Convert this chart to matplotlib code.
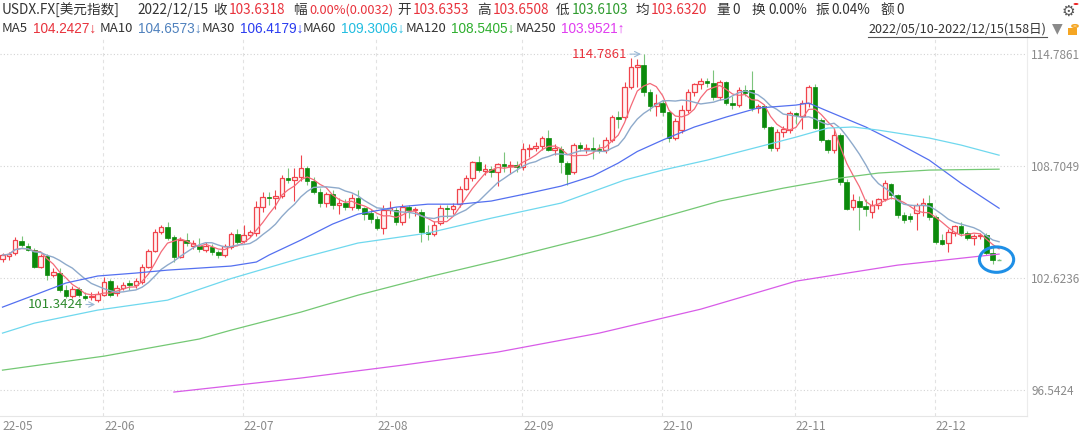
"""USDX daily candles with moving averages, 2022/05/10 - 2022/12/15."""

import matplotlib
matplotlib.use("Agg")
import matplotlib.pyplot as plt
from matplotlib.patches import Rectangle, Ellipse, Circle
from matplotlib.lines import Line2D
import numpy as np
import pandas as pd

plt.rcParams['font.family'] = ['Noto Sans CJK SC', 'DejaVu Sans']

W, H = 1080, 434

# Trading days (all weekdays) shown on the chart.
dates = pd.bdate_range("2022-05-10", "2022-12-15")

# Daily OHLC.
opens = [
    103.66, 103.80, 103.98, 104.64, 104.37, 104.15, 103.22, 103.82, 102.82, 102.90,
    101.98, 101.65, 102.03, 101.68, 101.58, 101.45, 101.70, 102.46, 101.81, 102.08,
    102.35, 102.25, 102.41, 103.22, 104.09, 105.12, 105.40, 104.85, 103.77, 104.69,
    104.37, 104.37, 104.15, 104.31, 104.04, 103.88, 104.31, 105.01, 104.64, 104.96,
    105.10, 106.50, 107.05, 106.95, 107.10, 108.05, 107.95, 108.10, 108.60, 107.90,
    107.30, 106.70, 107.20, 106.60, 106.70, 106.50, 107.00, 106.43, 106.16, 105.83,
    105.34, 106.30, 106.32, 105.67, 106.48, 106.30, 106.21, 105.13, 105.02, 105.61,
    106.43, 106.40, 106.65, 107.46, 108.06, 108.93, 108.45, 108.55, 108.38, 108.82,
    108.72, 108.78, 108.65, 109.63, 109.68, 109.79, 110.23, 109.57, 109.63, 108.87,
    108.38, 109.85, 109.65, 109.70, 109.65, 109.57, 110.12, 111.37, 111.37, 113.00,
    114.08, 114.19, 112.73, 111.97, 112.13, 111.64, 110.23, 110.66, 111.75, 112.73,
    113.16, 113.32, 113.21, 112.45, 113.27, 112.13, 112.02, 112.84, 112.84, 111.86,
    111.97, 110.83, 109.68, 110.55, 110.66, 111.59, 111.45, 112.13, 113.00, 111.20,
    110.12, 109.57, 110.39, 107.84, 106.48, 106.81, 106.55, 106.21, 106.59, 106.92,
    107.73, 107.13, 106.05, 106.00, 106.16, 106.59, 106.70, 105.94, 104.70, 104.53,
    105.07, 105.45, 105.07, 104.80, 104.90, 104.95, 103.99, 103.6353,
]
highs = [
    103.98, 104.05, 104.85, 104.91, 104.53, 104.26, 103.93, 103.93, 103.17, 103.17,
    102.25, 102.20, 102.14, 101.87, 101.87, 101.90, 102.68, 102.57, 102.25, 102.41,
    102.52, 102.62, 103.38, 104.20, 105.29, 105.50, 105.67, 104.96, 104.85, 105.07,
    104.69, 104.80, 104.58, 104.47, 104.15, 104.47, 105.12, 105.29, 105.50, 105.23,
    106.80, 107.30, 107.30, 107.40, 108.20, 108.60, 108.60, 109.29, 108.70, 108.10,
    107.50, 107.30, 107.40, 107.00, 106.90, 107.20, 107.40, 106.50, 106.40, 106.00,
    106.60, 106.80, 106.48, 106.65, 106.60, 106.50, 106.40, 105.50, 105.70, 106.60,
    106.60, 106.70, 107.60, 108.20, 109.00, 109.26, 108.80, 108.70, 108.90, 109.48,
    109.00, 109.00, 109.95, 109.90, 110.00, 110.35, 110.66, 109.90, 109.80, 109.00,
    109.95, 110.00, 109.90, 110.30, 109.90, 110.30, 111.50, 111.72, 113.27, 114.58,
    114.52, 114.7861, 112.90, 112.60, 112.30, 111.70, 111.30, 112.00, 112.90, 113.20,
    113.50, 113.50, 113.90, 113.40, 113.30, 112.50, 113.00, 113.10, 113.87, 112.10,
    112.05, 110.90, 110.70, 110.90, 111.70, 111.65, 112.30, 113.10, 113.15, 111.30,
    110.20, 110.80, 110.50, 108.00, 107.20, 107.10, 106.90, 106.85, 107.00, 107.95,
    107.80, 107.20, 106.20, 106.15, 106.70, 106.95, 107.13, 106.05, 105.00, 105.30,
    105.50, 105.67, 105.20, 105.00, 105.05, 105.10, 104.30, 103.6508,
]
lows = [
    103.50, 103.60, 103.88, 104.31, 104.09, 103.17, 103.17, 102.52, 102.68, 101.87,
    101.54, 101.54, 101.60, 101.43, 101.43, 101.3424, 101.65, 101.60, 101.65, 101.98,
    102.00, 102.08, 102.30, 103.17, 104.04, 105.02, 104.69, 103.50, 103.71, 104.37,
    104.20, 104.04, 104.04, 103.88, 103.71, 103.77, 104.20, 104.47, 104.53, 104.85,
    104.90, 106.20, 106.60, 106.40, 107.00, 107.80, 106.80, 107.90, 107.70, 107.20,
    106.50, 106.50, 106.40, 106.10, 106.30, 106.30, 106.30, 105.80, 105.60, 105.23,
    105.00, 106.10, 105.50, 105.50, 105.90, 106.00, 104.58, 104.70, 104.90, 105.50,
    105.90, 106.10, 106.50, 107.40, 107.90, 108.40, 108.20, 108.10, 107.60, 108.40,
    108.30, 108.40, 108.50, 109.20, 109.50, 109.60, 109.50, 109.30, 108.35, 107.70,
    108.30, 109.50, 109.40, 109.10, 109.40, 109.40, 110.00, 110.80, 111.20, 112.90,
    113.00, 112.50, 111.70, 111.40, 111.40, 110.00, 110.10, 110.50, 111.60, 112.50,
    112.90, 113.00, 112.30, 112.30, 112.00, 111.80, 111.90, 112.50, 111.70, 111.60,
    110.70, 109.50, 109.50, 110.30, 110.50, 111.00, 110.70, 111.90, 110.70, 110.00,
    109.40, 109.40, 107.70, 106.30, 106.30, 105.23, 106.00, 105.90, 106.40, 106.80,
    106.90, 105.90, 105.60, 105.65, 105.23, 106.00, 105.80, 104.50, 104.40, 104.03,
    104.90, 104.90, 104.70, 104.45, 104.75, 103.90, 103.40, 103.6103,
]
closes = [
    103.88, 103.95, 104.69, 104.42, 104.15, 103.22, 103.82, 102.79, 102.96, 101.98,
    101.65, 102.03, 101.70, 101.56, 101.66, 101.75, 102.41, 101.70, 102.08, 102.25,
    102.25, 102.46, 103.22, 104.09, 105.12, 105.40, 104.80, 103.77, 104.69, 104.53,
    104.53, 104.20, 104.37, 104.04, 103.88, 104.37, 105.01, 104.58, 104.96, 105.12,
    106.50, 107.05, 106.95, 107.10, 108.05, 107.95, 108.10, 108.60, 107.90, 107.30,
    106.70, 107.20, 106.60, 106.70, 106.50, 107.00, 106.43, 106.10, 105.83, 105.34,
    106.32, 106.45, 105.67, 106.48, 106.32, 106.40, 105.13, 105.02, 105.50, 106.43,
    106.38, 106.55, 107.46, 108.06, 108.93, 108.49, 108.55, 108.38, 108.82, 108.72,
    108.78, 108.65, 109.63, 109.68, 109.79, 110.23, 109.57, 109.70, 108.93, 108.27,
    109.85, 109.68, 109.70, 109.60, 109.58, 110.12, 111.37, 111.26, 113.00, 114.08,
    114.19, 112.73, 111.97, 112.13, 111.64, 110.23, 111.15, 111.75, 112.73, 113.16,
    113.32, 113.21, 112.45, 113.27, 112.13, 112.05, 112.84, 112.68, 111.86, 111.97,
    110.83, 109.68, 110.55, 110.72, 111.59, 111.50, 112.13, 113.00, 110.77, 110.12,
    109.57, 110.39, 107.84, 106.37, 106.86, 106.48, 106.40, 106.59, 106.92, 107.78,
    107.13, 106.05, 105.78, 105.85, 106.59, 106.70, 105.94, 104.58, 104.50, 105.12,
    105.45, 105.07, 104.80, 104.90, 104.95, 103.99, 103.60, 103.6318,
]

# Long moving averages (index of trading day, value).
ma30_idx = [0, 5, 10, 15, 21, 26, 31, 36, 40, 42, 47, 52, 56, 62, 67, 72, 77, 83,
            88, 93, 97, 100, 104, 109, 114, 119, 125, 127, 130, 136, 141, 146, 151, 157]
ma30_val = [101.05, 101.70, 102.36, 102.74, 102.90, 103.06, 103.17, 103.28, 103.50,
            103.88, 104.69, 105.56, 106.10, 106.48, 106.64, 106.64, 106.81, 107.24,
            107.62, 108.17, 108.87, 109.50, 110.12, 110.83, 111.37, 111.86, 112.02,
            112.13, 111.69, 110.83, 109.96, 109.03, 107.78, 106.42]
ma60_idx = [0, 5, 15, 26, 36, 47, 56, 67, 77, 88, 98, 104, 111, 119, 125, 130, 134,
            138, 146, 151, 157]
ma60_val = [99.64, 100.18, 100.89, 101.43, 102.60, 103.71, 104.53, 105.07, 105.88,
            106.70, 107.95, 108.49, 109.03, 109.74, 110.28, 110.77, 110.83, 110.66,
            110.23, 109.85, 109.30]
ma120_idx = [0, 16, 31, 36, 47, 56, 67, 79, 94, 113, 123, 132, 138, 146, 157]
ma120_val = [97.63, 98.39, 99.32, 99.80, 100.78, 101.70, 102.68, 103.66, 104.96,
             106.81, 107.51, 108.06, 108.33, 108.49, 108.54]
ma250_idx = [27, 47, 63, 78, 94, 110, 125, 141, 157]
ma250_val = [96.44, 97.20, 97.90, 98.61, 99.64, 100.94, 102.46, 103.33, 103.93]

y_ticks = [96.5424, 102.6236, 108.7049, 114.7861]

RED = '#f0444c'
GREEN = '#0b8a0b'
GREEN_WICK = '#7cc47c'
NUM_FONT = ['Liberation Sans', 'DejaVu Sans']


def px(x, y):
    return x / W, 1 - y / H


fig = plt.figure(figsize=(W / 100, H / 100), dpi=100)
fig.patch.set_facecolor('white')

ax = fig.add_axes([0, (H - 416) / H, 1027 / W, (416 - 36) / H])
n = len(closes)
x = np.arange(n)

# Candles.
bw = 0.72
for i in x:
    o, h, l, c = opens[i], highs[i], lows[i], closes[i]
    up = c > o
    if up:
        ax.vlines(i, l, h, color=RED, lw=0.8, zorder=2)
        ax.add_patch(Rectangle((i - bw / 2, o), bw, c - o, facecolor='#fff4f4',
                               edgecolor=RED, lw=0.9, zorder=2.5))
    else:
        ax.vlines(i, l, h, color=GREEN_WICK, lw=0.8, zorder=2)
        if o - c < 0.03:
            ax.hlines(c, i - bw / 2, i + bw / 2, color=GREEN_WICK, lw=1.0, zorder=2.5)
        else:
            ax.add_patch(Rectangle((i - bw / 2, c), bw, o - c, facecolor=GREEN,
                                   edgecolor=GREEN, lw=0.5, zorder=2.5))

# Moving averages.
cl = pd.Series(closes)
ma5 = cl.rolling(5, min_periods=1).mean()
ma10 = cl.rolling(10, min_periods=1).mean()
ax.plot(x, ma5, color='#f46a78', lw=0.9, zorder=3)
ax.plot(x, ma10, color='#8eaacb', lw=1.0, zorder=3)
ax.plot(ma30_idx, ma30_val, color='#5470f0', lw=0.9, zorder=3)
ax.plot(ma60_idx, ma60_val, color='#6fd8ee', lw=0.9, zorder=3)
ax.plot(ma120_idx, ma120_val, color='#74c874', lw=0.9, zorder=3)
ax.plot(ma250_idx, ma250_val, color='#d85ce8', lw=0.9, zorder=3)

# Max / min marks.
imax = int(np.argmax(highs))
imin = int(np.argmin(lows))
ax.annotate(f"{highs[imax]:.4f}", xy=(imax - 0.4, highs[imax]),
            xytext=(imax - 2.6, highs[imax]), ha='right', va='center',
            color='#e8323c', fontsize=9.5,
            arrowprops=dict(arrowstyle='->', color='#9ab8d6', lw=0.8,
                            shrinkA=0, shrinkB=0))
ax.annotate(f"{lows[imin]:.4f}", xy=(imin - 0.4, lows[imin] - 0.15),
            xytext=(imin - 2.3, lows[imin] - 0.15), ha='right', va='center',
            color='#2e8b2e', fontsize=9.5,
            arrowprops=dict(arrowstyle='->', color='#9ab8d6', lw=0.8,
                            shrinkA=0, shrinkB=0))

# Blue circle around the last candles.
ax.add_patch(Ellipse((156.6, 103.63), 5.4, 1.38, fill=False,
                     edgecolor='#1e8fe6', lw=2.2, zorder=4))

# Axes and grid.
ax.set_xlim(-0.394, 161.4)
ax.set_ylim(95.14, 115.77)
for s in ['top', 'left']:
    ax.spines[s].set_visible(False)
ax.spines['right'].set_color('#ececec')
ax.spines['bottom'].set_color('#e6e6e6')

month_idx = [0] + [i for i in range(1, n) if dates[i].month != dates[i - 1].month]
month_lbl = [dates[i].strftime('%y-%m') for i in month_idx]
ax.set_xticks(month_idx)
ax.set_xticklabels(month_lbl, ha='left', color='#8a8a8a', fontsize=8.5)
ax.tick_params(axis='x', length=0, pad=3)
for i in month_idx[1:]:
    ax.axvline(i - 0.15, color='#e2e2e2', lw=0.8, ls=(0, (3, 3)), zorder=1)

ax.yaxis.tick_right()
ax.set_yticks(y_ticks)
ax.set_yticklabels([f"{v:.4f}" for v in y_ticks], color='#8a8a8a', fontsize=8.5)
ax.tick_params(axis='y', length=0, pad=3)
for v in y_ticks:
    ax.axhline(v, color='#d4d4d4', lw=0.8, ls=(0, (1, 2)), zorder=1)

# Header line 1.
row1 = [
    (2, "USDX.FX[美元指数]", '#333333', 9.8),
    (137, "2022/12/15", '#333333', 9.8),
    (213, "收", '#333333', 9.8), (229, "103.6318", '#e8323c', 9.8),
    (293, "幅", '#333333', 9.8), (309, "0.00%(0.0032)", '#e8323c', 9.2),
    (397, "开", '#333333', 9.8), (413, "103.6353", '#e8323c', 9.8),
    (477, "高", '#333333', 9.8), (493, "103.6508", '#e8323c', 9.8),
    (556, "低", '#333333', 9.8), (572, "103.6103", '#2e9b2e', 9.8),
    (635, "均", '#333333', 9.8), (651, "103.6320", '#e8323c', 9.8),
    (716, "量", '#333333', 9.8), (732, "0", '#333333', 9.8),
    (752, "换", '#333333', 9.8), (768, "0.00%", '#333333', 9.8),
    (815, "振", '#333333', 9.8), (831, "0.04%", '#333333', 9.8),
    (880, "额", '#333333', 9.8), (896, "0", '#333333', 9.8),
]
for xp, t, col, fs in row1:
    fig.text(*px(xp, 10), t, color=col, fontsize=fs, va='center', ha='left')

# Header line 2 (moving average values).
row2 = [
    (2, "MA5", 33, "104.2427↓", '#e8323c'),
    (100, "MA10", 138, "104.6573↓", '#4f81bd'),
    (202, "MA30", 240, "106.4179↓", '#2a3cf0'),
    (303, "MA60", 341, "109.3006↓", '#22bde0'),
    (406, "MA120", 451, "108.5405↓", '#2faf2f'),
    (516, "MA250", 561, "103.9521↑", '#e03cf0'),
]
for xl, lbl, xv, val, col in row2:
    fig.text(*px(xl, 29), lbl, color='#333333', fontsize=9.5, va='center')
    fig.text(*px(xv, 29), val, color=col, fontsize=9.8, va='center',
             family=NUM_FONT)

fig.text(*px(868, 29), "2022/05/10-2022/12/15(158日)", color='#333333',
         fontsize=9, va='center')
fig.add_artist(Line2D([868 / W, 1047 / W], [1 - 37 / H, 1 - 37 / H],
                      color='#555555', lw=0.8))
fig.text(*px(1052, 28), "▼", color='#8a8a8a', fontsize=10, va='center',
         family=['DejaVu Sans'])
# Lock and gear icons.
fig.add_artist(Rectangle(px(1068, 35), 9 / W, 7 / H, transform=fig.transFigure,
                         facecolor='#f5a623', edgecolor='none'))
fig.add_artist(Circle(px(1075, 26), 3 / W, transform=fig.transFigure,
                      fill=False, edgecolor='#f5a623', lw=1.2))
fig.text(*px(1062, 11), "⚙", color='#555555', fontsize=11, va='center',
         family=['DejaVu Sans'])
fig.add_artist(Circle(px(1076, 4), 2.5 / W, transform=fig.transFigure,
                      facecolor='#ee2222', edgecolor='none'))

fig.savefig("out.png", dpi=100, facecolor='white')
